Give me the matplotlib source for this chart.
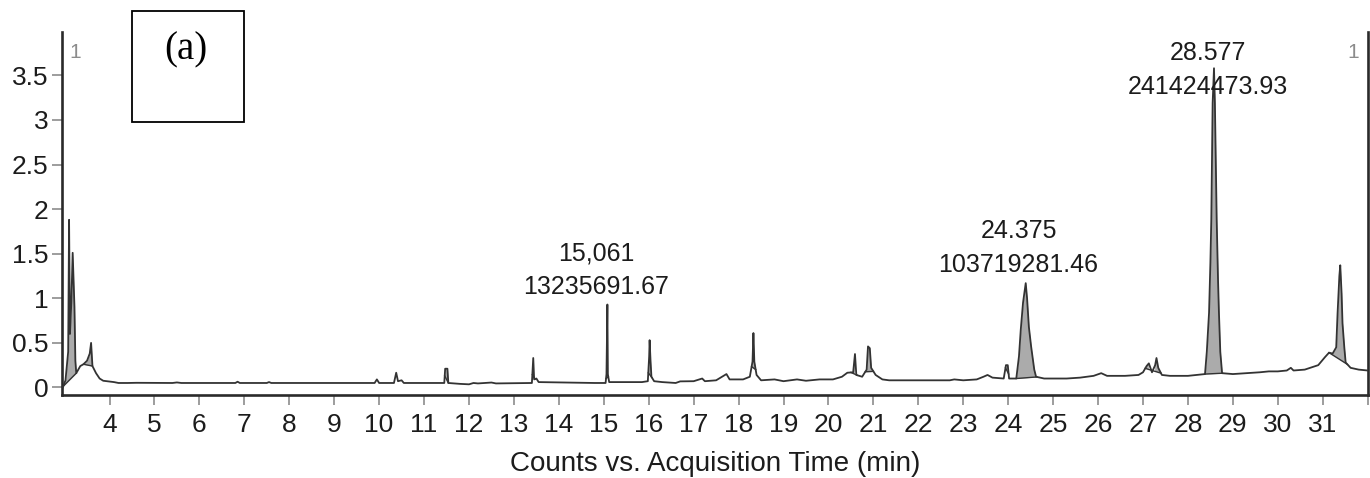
"""Chromatogram (a): counts vs. acquisition time, integrated peaks shaded grey."""
import matplotlib
matplotlib.use("Agg")
import matplotlib.pyplot as plt
import numpy as np
from matplotlib.patches import Rectangle

LINE = "#333333"; FILL = "#ababab"; TXT = "#1c1c1c"; GREY = "#8c8c8c"
SANS = ["Liberation Sans", "DejaVu Sans"]

# trace: time (min), counts (x10^7)
time_min = [2.96, 3.02, 3.08, 3.10, 3.12, 3.15, 3.18, 3.20, 3.22, 3.24, 3.26, 3.35, 3.42, 3.50,
            3.56, 3.59, 3.62, 3.70, 3.78, 3.86, 4.10, 4.20, 4.40, 4.60, 5.40, 5.50, 5.60, 6.00,
            6.80, 6.85, 6.90, 7.50, 7.55, 7.60, 8.50, 9.90, 9.95, 10.00, 10.33, 10.38, 10.42,
            10.50, 10.55, 11.45, 11.47, 11.52, 11.54, 11.80, 12.00, 12.10, 12.20, 12.50, 12.60,
            13.40, 13.43, 13.45, 13.50, 13.55, 14.80, 15.04, 15.06, 15.08, 15.09, 15.12, 15.60,
            15.85, 15.98, 16.01, 16.02, 16.04, 16.06, 16.12, 16.30, 16.60, 16.70, 17.00, 17.19,
            17.25, 17.50, 17.73, 17.80, 18.10, 18.25, 18.31, 18.33, 18.35, 18.40, 18.50, 18.80,
            19.00, 19.30, 19.50, 19.80, 20.10, 20.30, 20.42, 20.55, 20.59, 20.62, 20.75, 20.85,
            20.88, 20.92, 20.95, 21.05, 21.20, 21.35, 22.00, 22.70, 22.80, 23.00, 23.30, 23.45,
            23.54, 23.65, 23.90, 23.95, 23.99, 24.02, 24.18, 24.24, 24.28, 24.33, 24.37, 24.39,
            24.42, 24.46, 24.51, 24.58, 24.62, 24.80, 25.30, 25.60, 25.90, 26.07, 26.20, 26.60,
            26.90, 27.00, 27.08, 27.13, 27.20, 27.27, 27.30, 27.34, 27.42, 27.60, 28.00, 28.20,
            28.38, 28.42, 28.47, 28.50, 28.52, 28.55, 28.58, 28.60, 28.64, 28.67, 28.69, 28.72,
            28.76, 29.00, 29.30, 29.60, 29.80, 30.00, 30.20, 30.29, 30.35, 30.60, 30.90, 31.05,
            31.14, 31.22, 31.30, 31.33, 31.37, 31.39, 31.42, 31.44, 31.48, 31.51, 31.62, 31.80,
            32.00]
counts = [0.00, 0.08, 0.40, 1.88, 0.60, 0.95, 1.51, 1.20, 0.90, 0.30, 0.16, 0.24, 0.26, 0.30,
          0.38, 0.50, 0.24, 0.16, 0.10, 0.075, 0.06, 0.05, 0.05, 0.052, 0.05, 0.056, 0.05, 0.05,
          0.05, 0.064, 0.05, 0.05, 0.06, 0.05, 0.05, 0.05, 0.09, 0.05, 0.05, 0.165, 0.07,
          0.08, 0.05, 0.05, 0.21, 0.21, 0.05, 0.04, 0.035, 0.05, 0.045, 0.055, 0.045,
          0.05, 0.33, 0.09, 0.10, 0.06, 0.05, 0.05, 0.15, 0.93, 0.15, 0.06, 0.06,
          0.06, 0.07, 0.35, 0.53, 0.30, 0.12, 0.07, 0.06, 0.05, 0.068, 0.07, 0.10,
          0.07, 0.08, 0.15, 0.09, 0.09, 0.12, 0.29, 0.61, 0.29, 0.14, 0.08, 0.09,
          0.07, 0.09, 0.075, 0.09, 0.09, 0.12, 0.165, 0.17, 0.375, 0.14, 0.12, 0.20,
          0.46, 0.44, 0.22, 0.14, 0.09, 0.08, 0.08, 0.08, 0.09, 0.08, 0.09, 0.12,
          0.14, 0.11, 0.10, 0.25, 0.25, 0.10, 0.10, 0.35, 0.65, 0.95, 1.10, 1.17,
          1.00, 0.68, 0.46, 0.20, 0.12, 0.10, 0.10, 0.11, 0.13, 0.16, 0.13, 0.13,
          0.14, 0.17, 0.24, 0.27, 0.17, 0.25, 0.33, 0.22, 0.14, 0.13, 0.13, 0.14,
          0.15, 0.40, 0.84, 1.40, 1.88, 3.19, 3.58, 3.19, 1.88, 1.20, 0.84, 0.40,
          0.16, 0.15, 0.16, 0.17, 0.18, 0.18, 0.19, 0.22, 0.19, 0.20, 0.25, 0.34,
          0.39, 0.38, 0.45, 0.83, 1.25, 1.37, 1.05, 0.72, 0.45, 0.28, 0.22, 0.20,
          0.19]

# integrated peak windows (start, end) in minutes
peak_start = [2.97, 3.42, 11.46, 13.41, 15.05, 15.99, 18.29, 20.50, 20.82, 23.94, 24.18, 27.05, 28.38, 31.14]
peak_end = [3.26, 3.62, 11.54, 13.47, 15.10, 16.07, 18.38, 20.64, 21.00, 24.01, 24.64, 27.40, 28.77, 31.55]

# labelled peaks: retention time, area, label anchor
label_rt = ["15,061", "24.375", "28.577"]
label_area = ["13235691.67", "103719281.46", "241424473.93"]
label_x = [14.83, 24.23, 28.45]
label_y = [1.50, 1.75, 3.75]

x_ticks = list(range(4, 33))
y_ticks = [0, 0.5, 1, 1.5, 2, 2.5, 3, 3.5]

t = np.array(time_min); y = np.array(counts)

fig = plt.figure(figsize=(13.7, 4.78), dpi=100)
ax = fig.add_axes([0.0455, 0.1736, 0.9528, 0.7601])

for a, b in zip(peak_start, peak_end):
    tt = np.concatenate([[a], t[(t > a) & (t < b)], [b]])
    yy = np.interp(tt, t, y)
    base = np.interp(tt, [a, b], [yy[0], yy[-1]])
    ax.fill_between(tt, base, yy, where=yy >= base, color=FILL, linewidth=0, zorder=1)
    ax.plot([a, b], [yy[0], yy[-1]], color=LINE, linewidth=1.0, zorder=2)

ax.plot(t, y, color=LINE, linewidth=1.3, zorder=3)

ax.set_xlim(2.95, 32.0)
ax.set_ylim(-0.085, 3.99)
ax.tick_params(axis="both", direction="out", length=7, width=1.2, color=GREY)
ax.tick_params(axis="x", pad=6)
ax.tick_params(axis="y", pad=3)
ax.set_xticks(x_ticks)
ax.set_xticklabels([str(v) for v in x_ticks[:-1]] + [""], family=SANS, fontsize=19, color=TXT)
ax.set_yticks(y_ticks)
ax.set_yticklabels(["%g" % v for v in y_ticks], family=SANS, fontsize=19, color=TXT)

ax.spines["top"].set_visible(False)
for s in ("left", "bottom", "right"):
    ax.spines[s].set_linewidth(1.9)
    ax.spines[s].set_color("#2a2a2a")

ax.set_xlabel("Counts vs. Acquisition Time (min)", family=SANS, fontsize=20, color=TXT, labelpad=10)

for rt, area, lx, ly in zip(label_rt, label_area, label_x, label_y):
    ax.text(lx, ly, rt, ha="center", va="center", family=SANS, fontsize=18, color=TXT)
    ax.text(lx, ly - 0.375, area, ha="center", va="center", family=SANS, fontsize=18, color=TXT)

ax.text(3.24, 3.76, "1", ha="center", va="center", family=SANS, fontsize=15, color=GREY)
ax.text(31.67, 3.76, "1", ha="center", va="center", family=SANS, fontsize=15, color=GREY)

# panel tag box
fig.patches.append(Rectangle((0.0964, 0.7448), 0.0818, 0.2322, transform=fig.transFigure,
                             fill=False, edgecolor="black", linewidth=1.3))
fig.text(0.1358, 0.8954, "(a)", ha="center", va="center", family=["Liberation Serif", "DejaVu Serif"],
         fontsize=28, color="black")

fig.savefig("out.png", dpi=100, facecolor="white")
plt.close(fig)
